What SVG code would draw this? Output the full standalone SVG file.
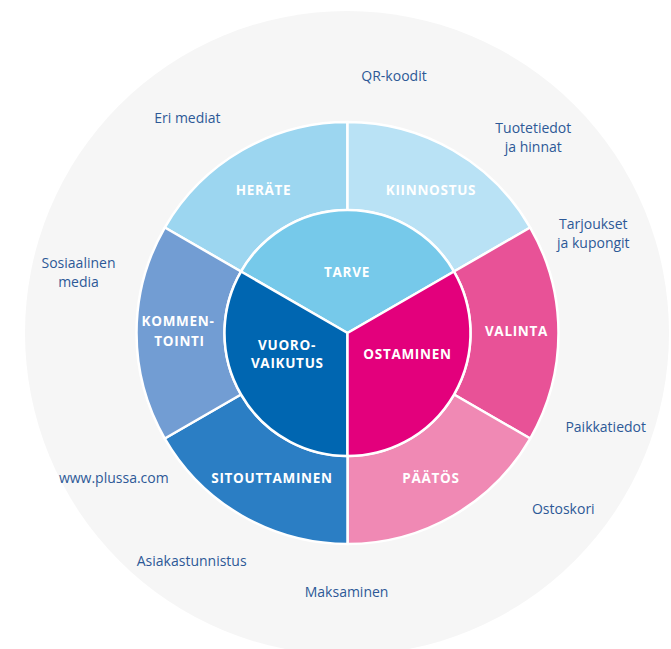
<svg xmlns="http://www.w3.org/2000/svg" width="671" height="649" viewBox="0 0 671 649">
<style>
.seg{stroke:#ffffff;stroke-width:2.5;stroke-linejoin:round}
.lbl{font-family:"Open Sans","Liberation Sans",sans-serif;font-weight:700;font-size:13.5px;letter-spacing:0.7px;fill:#ffffff;text-anchor:middle}
.out{font-family:"Open Sans","Liberation Sans",sans-serif;font-size:14px;fill:#2d5997;text-anchor:middle}
</style>
<rect width="671" height="649" fill="#ffffff"/>
<circle id="background" cx="347" cy="333" r="322" fill="#f6f6f6"/>
<g id="outer-ring">
<g id="herate"><path class="seg" fill="#9cd6f0" d="M164.77,227.5 A211,211 0 0 1 347.5,122 L347.5,210 A123,123 0 0 0 240.98,271.5 Z"/><text class="lbl" x="263.5" y="195">HERÄTE</text></g>
<g id="kiinnostus"><path class="seg" fill="#b9e2f5" d="M347.5,122 A211,211 0 0 1 530.23,227.5 L454.02,271.5 A123,123 0 0 0 347.5,210 Z"/><text class="lbl" x="431" y="195">KIINNOSTUS</text></g>
<g id="valinta"><path class="seg" fill="#e85297" d="M530.23,227.5 A211,211 0 0 1 530.23,438.5 L454.02,394.5 A123,123 0 0 0 454.02,271.5 Z"/><text class="lbl" x="516.5" y="336">VALINTA</text></g>
<g id="paatos"><path class="seg" fill="#f089b4" d="M530.23,438.5 A211,211 0 0 1 347.5,544 L347.5,456 A123,123 0 0 0 454.02,394.5 Z"/><text class="lbl" x="431" y="483.3">PÄÄTÖS</text></g>
<g id="sitouttaminen"><path class="seg" fill="#2b7ec4" d="M347.5,544 A211,211 0 0 1 164.77,438.5 L240.98,394.5 A123,123 0 0 0 347.5,456 Z"/><text class="lbl" x="272" y="483.3">SITOUTTAMINEN</text></g>
<g id="kommentointi"><path class="seg" fill="#729dd3" d="M164.77,438.5 A211,211 0 0 1 164.77,227.5 L240.98,271.5 A123,123 0 0 0 240.98,394.5 Z"/><text class="lbl" x="178" y="326">KOMMEN-</text><text class="lbl" x="179.5" y="346">TOINTI</text></g>
</g>
<g id="inner-circle">
<g id="tarve"><path class="seg" fill="#76c9ea" d="M347.5,333 L240.98,271.5 A123,123 0 0 1 454.02,271.5 Z"/><text class="lbl" x="347" y="277.3">TARVE</text></g>
<g id="vuorovaikutus"><path class="seg" fill="#0066b1" d="M347.5,333 L347.5,456 A123,123 0 0 1 240.98,271.5 Z"/><text class="lbl" x="287" y="350">VUORO-</text><text class="lbl" x="287.3" y="368.3">VAIKUTUS</text></g>
<g id="ostaminen"><path class="seg" fill="#e3007c" d="M347.5,333 L454.02,271.5 A123,123 0 0 1 347.5,456 Z"/><text class="lbl" x="407.5" y="359.3">OSTAMINEN</text></g>
</g>
<g id="outer-labels">
<text class="out" x="394" y="81">QR-koodit</text>
<text class="out" x="187.4" y="123.3">Eri mediat</text>
<text class="out" x="533.3" y="132.8">Tuotetiedot</text>
<text class="out" x="533.3" y="151.6">ja hinnat</text>
<text class="out" x="593.3" y="228.8">Tarjoukset</text>
<text class="out" x="593.3" y="247.8">ja kupongit</text>
<text class="out" x="78.5" y="267.7">Sosiaalinen</text>
<text class="out" x="78.5" y="286.7">media</text>
<text class="out" x="605.7" y="432.4">Paikkatiedot</text>
<text class="out" x="113.8" y="482.8">www.plussa.com</text>
<text class="out" x="563.3" y="513.9">Ostoskori</text>
<text class="out" x="191.7" y="565.6">Asiakastunnistus</text>
<text class="out" x="346.6" y="596.6">Maksaminen</text>
</g>
</svg>
